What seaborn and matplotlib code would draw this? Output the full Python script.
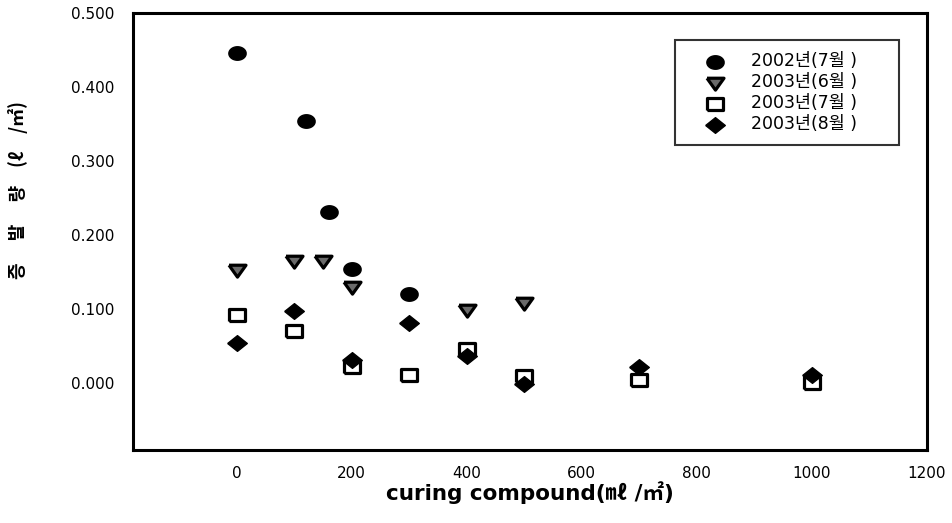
import matplotlib
matplotlib.use("Agg")
import matplotlib.pyplot as plt
import seaborn as sns
import pandas as pd
import numpy as np

# ---- data ----
x_2002_07 = [0, 120, 160, 200, 300]
y_2002_07 = [0.446, 0.354, 0.232, 0.154, 0.121]

x_2003_06 = [0, 100, 150, 200, 400, 500]
y_2003_06 = [0.153, 0.165, 0.165, 0.130, 0.099, 0.109]

x_2003_07 = [0, 100, 200, 300, 400, 500, 700, 1000]
y_2003_07 = [0.092, 0.070, 0.022, 0.011, 0.047, 0.010, 0.004, 0.001]

x_2003_08 = [0, 100, 200, 300, 400, 500, 700, 1000]
y_2003_08 = [0.054, 0.098, 0.032, 0.082, 0.037, -0.001, 0.022, 0.011]

labels = ["2002년(7월 )", "2003년(6월 )", "2003년(7월 )", "2003년(8월 )"]
x_ticks = [0, 200, 400, 600, 800, 1000, 1200]
y_ticks = [0.0, 0.1, 0.2, 0.3, 0.4, 0.5]

sns.set_theme(style="white")
plt.rcParams['font.family'] = ['DejaVu Sans', 'Noto Sans CJK KR']
plt.rcParams['text.color'] = 'black'
plt.rcParams['axes.labelcolor'] = 'black'

fig = plt.figure(figsize=(9.53, 5.23), dpi=100)
ax = fig.add_axes([133/953, 1-450/523, (927-133)/953, (450-13)/523])

# marker shapes (slightly wide, as in the scanned original)
_t = np.linspace(0, 2 * np.pi, 41)
ellipse = list(zip(np.cos(_t), 0.78 * np.sin(_t)))
diamond = [(-1, 0), (0, 0.8), (1, 0), (0, -0.8), (-1, 0)]
tri_down = [(-1, 0.62), (1, 0.62), (0, -0.78), (-1, 0.62)]
rect = [(-1, -0.82), (1, -0.82), (1, 0.82), (-1, 0.82), (-1, -0.82)]

series = [
    (x_2002_07, y_2002_07, labels[0], ellipse, 'black', 1.0, 155),
    (x_2003_06, y_2003_06, labels[1], tri_down, '#6a6a6a', 2.3, 150),
    (x_2003_07, y_2003_07, labels[2], rect, 'white', 2.3, 125),
    (x_2003_08, y_2003_08, labels[3], diamond, 'black', 1.0, 200),
]
for xs, ys, lab, mk, fc, lw, s in series:
    df = pd.DataFrame({"x": xs, "y": ys})
    sns.scatterplot(data=df, x="x", y="y", ax=ax, marker=mk, s=s,
                    color=fc, edgecolor='black', linewidth=lw, label=lab, zorder=3)

ax.set_xlim(-180, 1200)
ax.set_ylim(-0.09, 0.5)
ax.set_xticks(x_ticks)
ax.set_xticklabels([str(v) for v in x_ticks])
ax.set_yticks(y_ticks)
ax.set_yticklabels([f"{v:.3f}" for v in y_ticks])

for sp in ax.spines.values():
    sp.set_visible(True)
    sp.set_color('black')
    sp.set_linewidth(2.2)
ax.tick_params(axis='both', direction='out', length=4.5, width=1.5, color='black',
               labelsize=11, labelcolor='black')
ax.tick_params(axis='y', pad=9)
ax.tick_params(axis='x', pad=7)

ax.set_xlabel("curing compound(㎖ /㎡)", fontsize=15.5, fontweight='bold',
              labelpad=0, color='black', family=['DejaVu Sans', 'Noto Sans CJK KR'])
ax.set_ylabel("증 \u3000발 \u3000량\u3000(ℓ\u3000/㎡)", fontsize=13, fontweight='bold',
              color='black', family=['Noto Sans CJK KR', 'DejaVu Sans'])
ax.yaxis.set_label_coords(-0.132, 0.595)

leg = ax.legend(loc='upper left', bbox_to_anchor=(0.683, 0.693, 0.282, 0.245),
                mode='expand', frameon=True, fancybox=False, edgecolor='black',
                prop={'family': ['DejaVu Sans', 'Noto Sans CJK KR'], 'size': 12.5},
                borderpad=0.7, labelspacing=0.17, handletextpad=0.45,
                borderaxespad=0, handlelength=3.2)
leg.get_frame().set_linewidth(1.5)
for t in leg.get_texts():
    t.set_color('black')

fig.savefig("out.png", dpi=100)
